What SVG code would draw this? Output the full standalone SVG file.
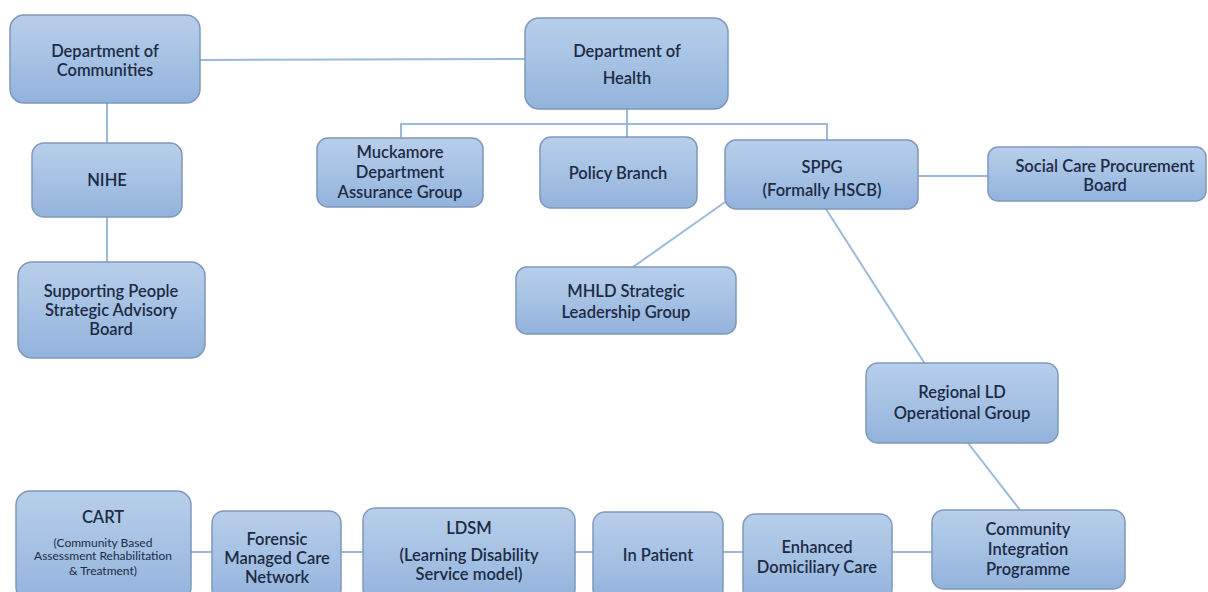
<svg xmlns="http://www.w3.org/2000/svg" width="1208" height="592" viewBox="0 0 1208 592">
<defs>
<linearGradient id="g" x1="0" y1="0" x2="0" y2="1">
<stop offset="0" stop-color="#b8cfeb"/>
<stop offset="1" stop-color="#93b3dc"/>
</linearGradient>
</defs>
<style>
.n rect{fill:url(#g);stroke:#7f98bb;stroke-width:1.5}
.n text{font-family:Lato,"Open Sans","Liberation Sans",sans-serif;font-size:16.5px;font-weight:600;fill:#1d2b45;text-anchor:middle}
.n text.s{font-size:12px;font-weight:400}
#conn line,#conn polyline{stroke:#9db8da;stroke-width:2;fill:none}
</style>
<rect width="1208" height="592" fill="#ffffff"/>
<g id="conn">
<line x1="200" y1="60" x2="525" y2="59"/>
<line x1="107" y1="103" x2="107" y2="143"/>
<line x1="107" y1="217" x2="107" y2="262"/>
<line x1="627" y1="109" x2="627" y2="137"/>
<polyline points="401,138 401,124 827,124 827,140"/>
<line x1="918" y1="176" x2="988" y2="176"/>
<line x1="728" y1="200" x2="633" y2="267"/>
<line x1="826" y1="209" x2="925" y2="364"/>
<line x1="968" y1="443" x2="1020" y2="510"/>
<line x1="191" y1="552" x2="212" y2="552"/>
<line x1="341" y1="552" x2="363" y2="552"/>
<line x1="575" y1="552" x2="593" y2="552"/>
<line x1="723" y1="552" x2="743" y2="552"/>
<line x1="892" y1="552" x2="932" y2="552"/>
</g>
<g id="doc" class="n"><rect x="10" y="15" width="190" height="88" rx="14"/><text x="105" y="57">Department of</text><text x="105" y="76">Communities</text></g>
<g id="nihe" class="n"><rect x="32" y="143" width="150" height="74" rx="12"/><text x="107" y="186">NIHE</text></g>
<g id="sp" class="n"><rect x="18" y="262" width="187" height="96" rx="14"/><text x="111" y="297">Supporting People</text><text x="111" y="316">Strategic Advisory</text><text x="111" y="335">Board</text></g>
<g id="doh" class="n"><rect x="525" y="18" width="203" height="91" rx="14"/><text x="627" y="57">Department of</text><text x="627" y="84">Health</text></g>
<g id="muck" class="n"><rect x="317" y="138" width="166" height="69" rx="11"/><text x="400" y="158">Muckamore</text><text x="400" y="178">Department</text><text x="400" y="198">Assurance Group</text></g>
<g id="policy" class="n"><rect x="540" y="137" width="157" height="71" rx="11"/><text x="618" y="179">Policy Branch</text></g>
<g id="sppg" class="n"><rect x="725" y="140" width="193" height="69" rx="11"/><text x="822" y="173">SPPG</text><text x="822" y="196">(Formally HSCB)</text></g>
<g id="scpb" class="n"><rect x="988" y="147" width="218" height="54" rx="10"/><text x="1105" y="172">Social Care Procurement</text><text x="1105" y="191">Board</text></g>
<g id="mhld" class="n"><rect x="516" y="267" width="220" height="67" rx="11"/><text x="626" y="297">MHLD Strategic</text><text x="626" y="318">Leadership Group</text></g>
<g id="rld" class="n"><rect x="866" y="363" width="192" height="80" rx="12"/><text x="962" y="398">Regional LD</text><text x="962" y="419">Operational Group</text></g>
<g id="cart" class="n"><rect x="16" y="491" width="175" height="110" rx="14"/><text x="103" y="523">CART</text><text class="s" x="103" y="547">(Community Based</text><text class="s" x="103" y="560">Assessment Rehabilitation</text><text class="s" x="103" y="575">&amp; Treatment)</text></g>
<g id="forensic" class="n"><rect x="212" y="511" width="129" height="90" rx="12"/><text x="277" y="545">Forensic</text><text x="277" y="564">Managed Care</text><text x="277" y="583">Network</text></g>
<g id="ldsm" class="n"><rect x="363" y="508" width="212" height="93" rx="12"/><text x="469" y="534">LDSM</text><text x="469" y="561">(Learning Disability</text><text x="469" y="580">Service model)</text></g>
<g id="inpatient" class="n"><rect x="593" y="512" width="130" height="89" rx="12"/><text x="658" y="561">In Patient</text></g>
<g id="edc" class="n"><rect x="743" y="514" width="149" height="87" rx="12"/><text x="817" y="553">Enhanced</text><text x="817" y="573">Domiciliary Care</text></g>
<g id="cip" class="n"><rect x="932" y="510" width="193" height="79" rx="12"/><text x="1028" y="535">Community</text><text x="1028" y="555">Integration</text><text x="1028" y="575">Programme</text></g>
</svg>
